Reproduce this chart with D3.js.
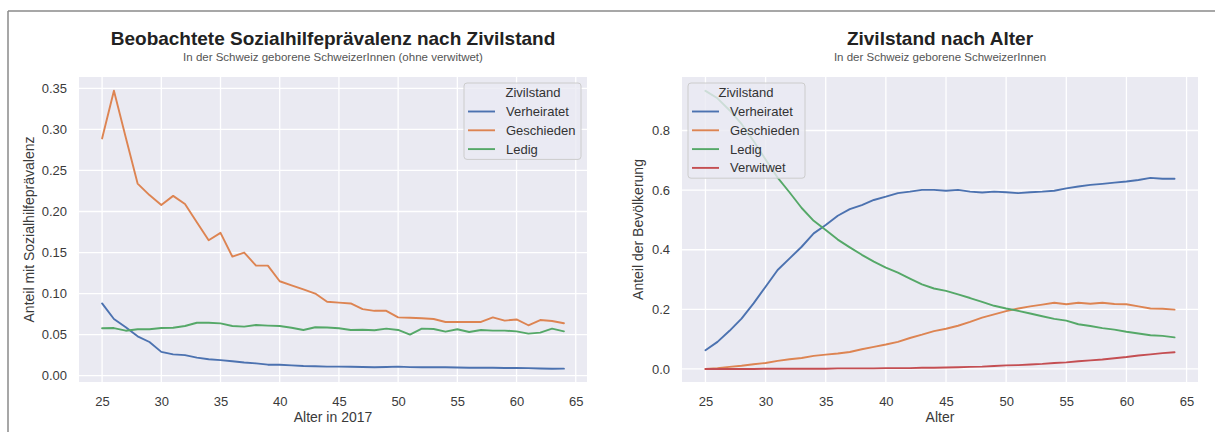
<!DOCTYPE html>
<html>
<head>
<meta charset="utf-8">
<script src="https://cdn.jsdelivr.net/npm/d3@7"></script>
<style>
  body { margin: 0; background: #ffffff; }
  svg { display: block; font-family: "Liberation Sans", Arial, sans-serif; }
</style>
</head>
<body>
<div id="chart"></div>
<script>
"use strict"

// ages on the x axis (both charts)
let ages = d3.range(25, 65);

// left chart: observed social-welfare prevalence by civil status
let sozVerheiratet = [0.088, 0.069, 0.059, 0.048, 0.041, 0.029, 0.026, 0.025, 0.022, 0.020,
    0.019, 0.0175, 0.016, 0.015, 0.0134, 0.0134, 0.0126, 0.0118, 0.0115, 0.011,
    0.011, 0.0108, 0.0106, 0.0102, 0.0106, 0.011, 0.0104, 0.0102, 0.0102, 0.0102,
    0.0100, 0.0096, 0.0098, 0.0096, 0.0094, 0.0094, 0.0092, 0.0088, 0.0084, 0.0086];
let sozGeschieden = [0.289, 0.347, 0.290, 0.234, 0.220, 0.208, 0.219, 0.209, 0.187, 0.165,
    0.174, 0.145, 0.150, 0.134, 0.134, 0.115, 0.110, 0.105, 0.100, 0.090,
    0.089, 0.088, 0.081, 0.079, 0.079, 0.071, 0.0705, 0.070, 0.069, 0.0654,
    0.0654, 0.0654, 0.0654, 0.071, 0.067, 0.0685, 0.0614, 0.0678, 0.0666, 0.0638];
let sozLedig = [0.0577, 0.058, 0.0548, 0.0565, 0.0565, 0.058, 0.0584, 0.0605, 0.0645, 0.0645,
    0.0637, 0.0605, 0.0597, 0.0617, 0.061, 0.0605, 0.0584, 0.0557, 0.059, 0.0586,
    0.0577, 0.0557, 0.056, 0.0553, 0.0573, 0.0557, 0.050, 0.0573, 0.0569, 0.0536,
    0.0565, 0.0532, 0.0557, 0.0549, 0.0549, 0.054, 0.0512, 0.0524, 0.0573, 0.054];

// right chart: civil status share of the population by age
let popVerheiratet = [0.063, 0.091, 0.128, 0.169, 0.220, 0.276, 0.332, 0.371, 0.410, 0.455,
    0.483, 0.514, 0.536, 0.550, 0.567, 0.578, 0.590, 0.595, 0.601, 0.601,
    0.598, 0.601, 0.595, 0.592, 0.595, 0.593, 0.590, 0.593, 0.595, 0.598,
    0.606, 0.612, 0.6175, 0.621, 0.625, 0.629, 0.634, 0.641, 0.638, 0.638];
let popGeschieden = [0.000, 0.003, 0.007, 0.011, 0.016, 0.020, 0.027, 0.0325, 0.037, 0.044,
    0.048, 0.052, 0.057, 0.066, 0.074, 0.082, 0.091, 0.104, 0.115, 0.127,
    0.135, 0.145, 0.158, 0.172, 0.183, 0.194, 0.203, 0.210, 0.216, 0.222,
    0.217, 0.222, 0.219, 0.222, 0.218, 0.217, 0.210, 0.203, 0.202, 0.199];
let popLedig = [0.933, 0.908, 0.868, 0.822, 0.765, 0.703, 0.642, 0.592, 0.540, 0.497,
    0.466, 0.434, 0.408, 0.383, 0.360, 0.340, 0.323, 0.303, 0.284, 0.270,
    0.262, 0.250, 0.238, 0.225, 0.212, 0.203, 0.195, 0.186, 0.177, 0.168,
    0.162, 0.150, 0.144, 0.137, 0.132, 0.125, 0.119, 0.113, 0.111, 0.106];
let popVerwitwet = [0.000, 0.000, 0.000, 0.000, 0.000, 0.001, 0.001, 0.001, 0.001, 0.001,
    0.001, 0.002, 0.002, 0.002, 0.002, 0.003, 0.003, 0.003, 0.004, 0.004,
    0.005, 0.006, 0.007, 0.008, 0.010, 0.012, 0.013, 0.015, 0.017, 0.020,
    0.022, 0.026, 0.029, 0.032, 0.036, 0.040, 0.045, 0.049, 0.053, 0.056];

let xTicks = [25, 30, 35, 40, 45, 50, 55, 60, 65];
let leftYTicks = [0, 0.05, 0.10, 0.15, 0.20, 0.25, 0.30, 0.35];
let rightYTicks = [0, 0.2, 0.4, 0.6, 0.8];

let colors = {
    'Verheiratet': '#4C72B0',
    'Geschieden': '#DD8452',
    'Ledig': '#55A868',
    'Verwitwet': '#C44E52'
};

let width = 1215,
    height = 432;

let svg = d3.select("#chart")
    .append("svg")
    .attr("width", width)
    .attr("height", height);

// outer frame (top and left edge of the screenshot)
svg.append("line").attr("x1", 8).attr("x2", width).attr("y1", 11).attr("y2", 11)
    .attr("stroke", "#8a8a8a").attr("stroke-width", 1.5);
svg.append("line").attr("x1", 8).attr("x2", 8).attr("y1", 11).attr("y2", height)
    .attr("stroke", "#8a8a8a").attr("stroke-width", 1.5);

function drawPanel(opts) {
    let x = d3.scaleLinear().domain([23.05, 65.95]).range([opts.left, opts.right]);
    let y = d3.scaleLinear().domain(opts.yDomain).range([opts.bottom, opts.top]);
    let g = svg.append("g");

    g.append("rect")
        .attr("x", opts.left).attr("y", opts.top)
        .attr("width", opts.right - opts.left)
        .attr("height", opts.bottom - opts.top)
        .attr("fill", "#EAEAF2");

    // grid
    g.selectAll(".vgrid").data(xTicks).enter().append("line")
        .attr("x1", d => x(d)).attr("x2", d => x(d))
        .attr("y1", opts.top).attr("y2", opts.bottom)
        .attr("stroke", "#ffffff").attr("stroke-width", 1.3);
    g.selectAll(".hgrid").data(opts.yTicks).enter().append("line")
        .attr("x1", opts.left).attr("x2", opts.right)
        .attr("y1", d => y(d)).attr("y2", d => y(d))
        .attr("stroke", "#ffffff").attr("stroke-width", 1.3);

    // axes (labels only, seaborn darkgrid has no spines)
    let xAxis = g.append("g")
        .attr("transform", "translate(0," + opts.bottom + ")")
        .call(d3.axisBottom(x).tickValues(xTicks).tickSize(0).tickPadding(15));
    let yAxis = g.append("g")
        .attr("transform", "translate(" + opts.left + ",0)")
        .call(d3.axisLeft(y).tickValues(opts.yTicks).tickFormat(d3.format(opts.fmt)).tickSize(0).tickPadding(12));
    [xAxis, yAxis].forEach(function (a) {
        a.select(".domain").remove();
        a.selectAll("text")
            .attr("fill", "#3a3a3a")
            .style("font-size", "13px")
            .style("font-family", "'Liberation Sans', Arial, sans-serif");
    });

    // lines
    let line = d3.line()
        .x((d, i) => x(ages[i]))
        .y(d => y(d));
    opts.series.forEach(function (s) {
        g.append("path")
            .datum(s.values)
            .attr("d", line)
            .attr("fill", "none")
            .attr("stroke", colors[s.name])
            .attr("stroke-width", 1.9)
            .attr("stroke-linejoin", "round")
            .attr("stroke-linecap", "round");
    });

    // titles
    let cx = (opts.left + opts.right) / 2;
    g.append("text")
        .attr("x", cx).attr("y", 45)
        .attr("text-anchor", "middle")
        .style("font-size", "19px")
        .style("font-weight", "bold")
        .attr("fill", "#222222")
        .text(opts.title);
    g.append("text")
        .attr("x", cx).attr("y", 60.5)
        .attr("text-anchor", "middle")
        .style("font-size", "11.5px")
        .attr("fill", "#555555")
        .text(opts.subtitle);

    g.append("text")
        .attr("x", cx).attr("y", 422)
        .attr("text-anchor", "middle")
        .style("font-size", "14px")
        .attr("fill", "#3a3a3a")
        .text(opts.xLabel);
    g.append("text")
        .attr("transform", "translate(" + opts.yLabelX + "," + ((opts.top + opts.bottom) / 2) + ") rotate(-90)")
        .attr("text-anchor", "middle")
        .style("font-size", "14px")
        .attr("fill", "#3a3a3a")
        .text(opts.yLabel);

    // legend
    let lg = g.append("g").attr("transform", "translate(" + opts.legend.x + "," + opts.legend.y + ")");
    let lh = 20 + opts.series.length * 18.8;
    lg.append("rect")
        .attr("width", opts.legend.w).attr("height", lh)
        .attr("rx", 3)
        .attr("fill", "#EAEAF2").attr("fill-opacity", 0.8)
        .attr("stroke", "#cccccc").attr("stroke-width", 1);
    lg.append("text")
        .attr("x", opts.legend.titleX).attr("y", 14)
        .attr("text-anchor", "middle")
        .style("font-size", "13px")
        .attr("fill", "#333333")
        .text("Zivilstand");
    opts.series.forEach(function (s, i) {
        let yy = 28.5 + i * 18.8;
        lg.append("line")
            .attr("x1", 4).attr("x2", 31)
            .attr("y1", yy).attr("y2", yy)
            .attr("stroke", colors[s.name]).attr("stroke-width", 1.9);
        lg.append("text")
            .attr("x", 42).attr("y", yy + 4.5)
            .style("font-size", "13px")
            .attr("fill", "#333333")
            .text(s.name);
    });
}

drawPanel({
    left: 79, right: 587, top: 77, bottom: 382,
    yDomain: [-0.0077, 0.3638],
    yTicks: leftYTicks, fmt: ".2f",
    title: "Beobachtete Sozialhilfeprävalenz nach Zivilstand",
    subtitle: "In der Schweiz geborene SchweizerInnen (ohne verwitwet)",
    xLabel: "Alter in 2017",
    yLabel: "Anteil mit Sozialhilfeprävalenz",
    yLabelX: 34,
    legend: { x: 464, y: 83, w: 117, titleX: 69 },
    series: [
        { name: 'Verheiratet', values: sozVerheiratet },
        { name: 'Geschieden', values: sozGeschieden },
        { name: 'Ledig', values: sozLedig }
    ]
});

drawPanel({
    left: 682, right: 1198, top: 77, bottom: 382,
    yDomain: [-0.0437, 0.9795],
    yTicks: rightYTicks, fmt: ".1f",
    title: "Zivilstand nach Alter",
    subtitle: "In der Schweiz geborene SchweizerInnen",
    xLabel: "Alter",
    yLabel: "Anteil der Bevölkerung",
    yLabelX: 643,
    legend: { x: 688, y: 83, w: 117, titleX: 58 },
    series: [
        { name: 'Verheiratet', values: popVerheiratet },
        { name: 'Geschieden', values: popGeschieden },
        { name: 'Ledig', values: popLedig },
        { name: 'Verwitwet', values: popVerwitwet }
    ]
});
</script>
</body>
</html>
